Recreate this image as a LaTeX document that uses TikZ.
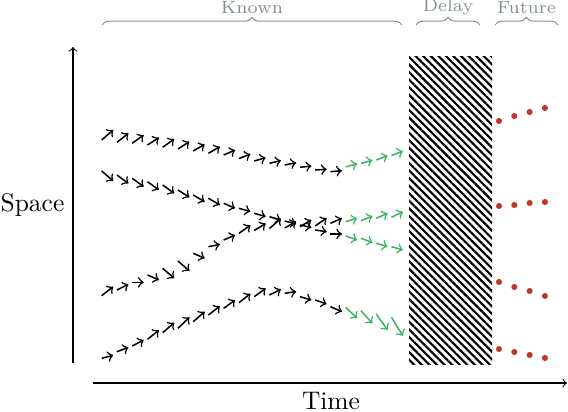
\documentclass[tikz,border=0pt]{standalone}
\usetikzlibrary{decorations.pathreplacing,patterns.meta}
\definecolor{predgreen}{RGB}{60,180,100}
\definecolor{futurered}{RGB}{190,55,45}
\definecolor{bracegray}{RGB}{130,145,138}
\begin{document}
\begin{tikzpicture}[x=0.3926pt,y=-0.3926pt,
    obs/.style={->,semithick,black},
    pred/.style={->,semithick,predgreen},
    dot/.style={circle,fill=futurered,inner sep=0pt,minimum size=2.4pt},
    span/.style={decorate,decoration={brace,amplitude=3pt},bracegray,thin},
    spanlabel/.style={font=\scriptsize,text=bracegray}]
        \useasboundingbox (0,0) rectangle (568,412);
        \coordinate (S0) at (73,363);
        \coordinate (S1) at (73,47);
        \coordinate (T0) at (93,383);
        \coordinate (T1) at (567,383);
        \draw[->] (S0)--(S1);
        \draw[->] (T0)--(T1);
        \node (space) at (32.5,205) {Space};
        \node[inner sep=1pt] (time) at (331,401.5) {Time};
        \draw[span] (102,25)--(402,25);
        \draw[span] (416,25)--(480,25);
        \draw[span] (495,25)--(558,25);
        \node[spanlabel] (known) at (252,7.5) {Known};
        \node[spanlabel] (delay) at (448,7.5) {Delay};
        \node[spanlabel] (future) at (526.5,7.5) {Future};
        \fill[pattern={Lines[angle=-45,distance=2.1pt,line width=0.85pt]}] (409,57) rectangle (492,365);
        % observed
        \foreach \y/\d [count=\i from 0] in {140/-10,142.3/-9,143.3/-8.3,145/-7.3,147.3/-8.3,149/-7.3,151/-6.7,153.3/-6.7,155/-5,158.5/-4.3,161/-3.3,163.3/-2.7,165/-2.3,167.3/-1.3,170/-0.7,171.7/-1}
            \draw[obs] ({101.7+15.25*\i},\y)--++(11.5,\d);
        \foreach \y/\d [count=\i from 0] in {171/10,175/8.5,178.3/8.3,181.7/8.3,185/8.3,190/7.3,195/6.7,198.3/6.7,203.3/5,208.3/3.3,213.3/3.3,216.7/3.3,221/3,225/2.5,230/1.7,234/0}
            \draw[obs] ({101.7+15.25*\i},\y)--++(11.5,\d);
        \foreach \y/\d [count=\i from 0] in {295.7/-9,290/-5.7,282.3/0,275/5,268.3/10,261/10,253.3/5,246.7/-2.3,240/-5,233.3/-8,230.5/-7,228.5/-10,228/-6.5,226.7/-6.7,226/-8,223.3/-5}
            \draw[obs] ({101.7+15.25*\i},\y)--++(11.5,\d);
        \foreach \y/\d [count=\i from 0] in {358.3/-3,351.7/-4.3,346/-6,339.3/-9,332.7/-10,328.3/-11,321.7/-10,315/-9,308.3/-8.3,302.7/-9,296.7/-8.3,295/-5.7,293.3/-1.7,296.7/3.3,300/4,306.7/5}
            \draw[obs] ({101.7+15.25*\i},\y)--++(11.5,\d);
        % predicted
        \foreach \y/\d [count=\i from 16] in {167/-3.3,163.5/-3.3,160/-4.3,155.5/-4.3,236/4,238.3/4.3,243.3/3.3,246.7/3.3,221.7/-3.5,220.7/-4.5,218.3/-5,217.3/-5.5,307.3/11,310.7/12.7,314/16,317.3/18.7}
            \draw[pred] ({101.7+15.25*(16+mod(\i-16,4))},\y)--++(11.5,\d);
        % future
        \foreach \row [count=\k] in {{121,116,112,108},{206,205,203,202},{282,287,291,296},{349,352,355,358}}
            \foreach \y [count=\j] in \row
                \node[dot] (f\k-\j) at ({483.7+15.3*\j},\y) {};
\end{tikzpicture}
\end{document}
